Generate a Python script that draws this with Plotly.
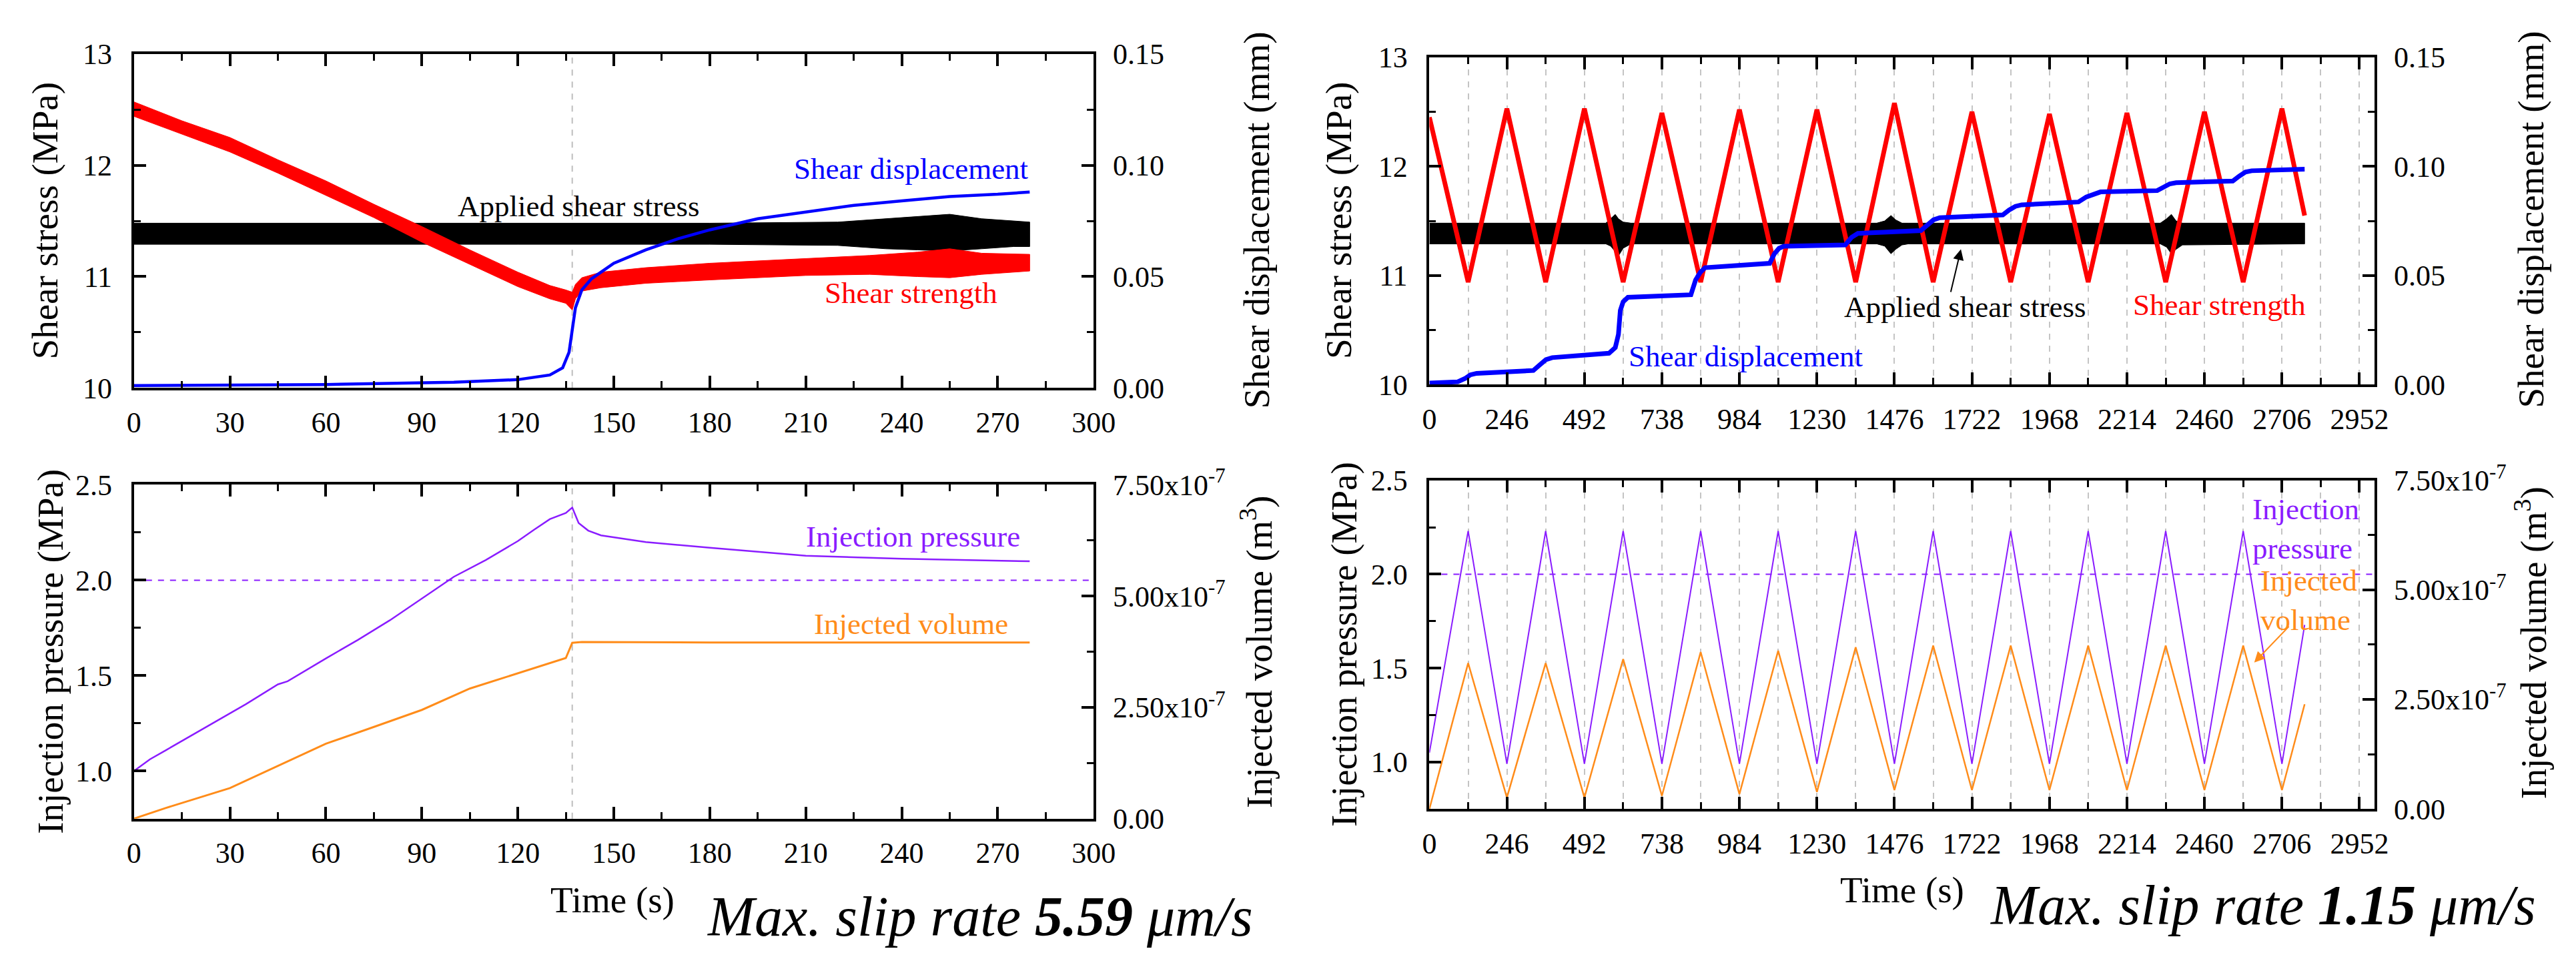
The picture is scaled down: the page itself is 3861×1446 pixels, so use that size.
import plotly.graph_objects as go

W, H = 3861, 1446
FONT = "Liberation Serif"

# ---------------- LEFT (5.59 um/s) : top panel ----------------
L_band_t = [0, 15, 30, 45, 60, 75, 90, 105, 120, 130, 135, 137, 138, 140, 146, 160, 180, 210, 230, 245, 255, 265, 280]
L_strength_hi = [12.57, 12.40, 12.25, 12.05, 11.86, 11.65, 11.45, 11.24, 11.04, 10.92, 10.88, 10.86, 10.93, 10.99, 11.04, 11.08, 11.12, 11.16, 11.19, 11.22, 11.25, 11.21, 11.20]
L_strength_lo = [12.44, 12.28, 12.12, 11.93, 11.73, 11.53, 11.31, 11.11, 10.91, 10.80, 10.76, 10.70, 10.80, 10.87, 10.90, 10.94, 10.97, 11.01, 11.02, 11.00, 10.99, 11.02, 11.05]

L_applied_t = [0, 60, 120, 180, 220, 235, 245, 255, 265, 275, 280]
L_applied_hi = [11.48, 11.48, 11.48, 11.48, 11.49, 11.52, 11.54, 11.56, 11.52, 11.50, 11.49]
L_applied_lo = [11.29, 11.29, 11.29, 11.29, 11.28, 11.25, 11.24, 11.23, 11.25, 11.27, 11.27]

L_disp_t = [0, 60, 100, 120, 130, 134, 136, 137, 138, 140, 143, 150, 160, 170, 180, 195, 210, 225, 240, 255, 270, 280]
L_disp_mm = [0.001, 0.0015, 0.0025, 0.0037, 0.0058, 0.009, 0.016, 0.026, 0.036, 0.044, 0.049, 0.056, 0.062, 0.067, 0.071, 0.076, 0.079, 0.082, 0.084, 0.086, 0.087, 0.088]

# ---------------- LEFT : bottom panel ----------------
L_pres_t = [0, 5, 10, 15, 25, 35, 45, 48, 60, 70, 80, 90, 100, 110, 120, 125, 130, 135, 137, 139, 142, 146, 160, 180, 210, 240, 270, 280]
L_pres = [1.00, 1.061, 1.109, 1.157, 1.253, 1.35, 1.454, 1.47, 1.59, 1.687, 1.79, 1.905, 2.018, 2.106, 2.205, 2.264, 2.32, 2.352, 2.381, 2.30, 2.26, 2.235, 2.20, 2.17, 2.128, 2.112, 2.102, 2.099]
L_vol_t = [0, 10, 30, 45, 60, 75, 90, 105, 120, 130, 135, 137, 140, 180, 240, 280]
L_vol = [0.0, 0.24e-7, 0.686e-7, 1.183e-7, 1.684e-7, 2.061e-7, 2.443e-7, 2.923e-7, 3.266e-7, 3.506e-7, 3.609e-7, 3.951e-7, 3.969e-7, 3.956e-7, 3.956e-7, 3.956e-7]

# ---------------- RIGHT (1.15 um/s) : top panel ----------------
R_cyc_t = [0, 123, 246, 369, 492, 615, 738, 861, 984, 1107, 1230, 1353, 1476, 1599, 1722, 1845, 1968, 2091, 2214, 2337, 2460, 2583, 2706, 2778]
R_strength = [12.45, 10.94, 12.53, 10.94, 12.53, 10.94, 12.49, 10.94, 12.52, 10.94, 12.52, 10.94, 12.58, 10.94, 12.50, 10.94, 12.48, 10.94, 12.49, 10.94, 12.50, 10.94, 12.53, 11.55]

R_applied_t = [0, 560, 575, 590, 600, 615, 640, 1420, 1445, 1465, 1480, 1500, 1520, 2320, 2340, 2355, 2370, 2390, 2778]
R_applied_hi = [11.48, 11.48, 11.52, 11.56, 11.52, 11.49, 11.48, 11.48, 11.50, 11.55, 11.51, 11.48, 11.48, 11.48, 11.52, 11.56, 11.50, 11.48, 11.48]
R_applied_lo = [11.29, 11.29, 11.27, 11.22, 11.18, 11.25, 11.29, 11.29, 11.27, 11.20, 11.24, 11.28, 11.29, 11.29, 11.26, 11.20, 11.24, 11.28, 11.29]

R_disp_t = [0, 90, 115, 130, 150, 330, 350, 370, 390, 570, 590, 600, 606, 615, 630, 830, 845, 860, 875,
            1080, 1095, 1110, 1125, 1320, 1340, 1360, 1560, 1580, 1600, 1620, 1820, 1840, 1860, 1880,
            2060, 2085, 2110, 2130, 2310, 2330, 2350, 2370, 2550, 2570, 2590, 2610, 2778]
R_disp_mm = [0.0007, 0.0013, 0.0030, 0.0045, 0.0052, 0.0065, 0.0090, 0.0115, 0.0124, 0.0144, 0.0170, 0.0230, 0.0340, 0.0380, 0.0400, 0.0412, 0.0480, 0.0515, 0.0536,
             0.0556, 0.0600, 0.0625, 0.0634, 0.0640, 0.0675, 0.0693, 0.0706, 0.0730, 0.0755, 0.0765, 0.0778, 0.0800, 0.0817, 0.0824,
             0.0837, 0.0860, 0.0876, 0.0883, 0.0889, 0.0905, 0.0920, 0.0925, 0.0933, 0.0955, 0.0974, 0.0980, 0.0987]

# ---------------- RIGHT : bottom panel ----------------
R_pres = [1.05, 2.23, 0.99, 2.23, 0.99, 2.23, 0.99, 2.23, 0.99, 2.23, 0.99, 2.23, 0.99, 2.23, 0.99, 2.23, 0.99, 2.23, 0.99, 2.23, 0.99, 2.23, 0.99, 1.73]
R_vol = [0.0, 3.33e-7, 0.26e-7, 3.33e-7, 0.26e-7, 3.42e-7, 0.30e-7, 3.58e-7, 0.34e-7, 3.61e-7, 0.39e-7, 3.69e-7, 0.43e-7, 3.73e-7,
         0.43e-7, 3.73e-7, 0.43e-7, 3.73e-7, 0.43e-7, 3.73e-7, 0.43e-7, 3.73e-7, 0.43e-7, 2.39e-7]

# tick labels
disp_ticks = [0.0, 0.05, 0.10, 0.15]
disp_text = ["0.00", "0.05", "0.10", "0.15"]
vol_ticks = [0.0, 2.5e-7, 5.0e-7, 7.5e-7]
vol_text = ["0.00", "2.50x10<sup>-7</sup>", "5.00x10<sup>-7</sup>", "7.50x10<sup>-7</sup>"]

RED, BLACK, BLUE, PURPLE, ORANGE = "#ff0000", "#000000", "#0000ff", "#8a1cff", "#ff8c1a"

fig = go.Figure()

def band(t, hi, lo, color, xa, ya):
    fig.add_trace(go.Scatter(x=list(t) + list(t)[::-1], y=list(hi) + list(lo)[::-1], fill="toself",
                             fillcolor=color, line=dict(color=color, width=1), mode="lines",
                             xaxis=xa, yaxis=ya, showlegend=False, hoverinfo="skip"))

def line(t, v, color, width, xa, ya):
    fig.add_trace(go.Scatter(x=t, y=v, mode="lines", line=dict(color=color, width=width),
                             xaxis=xa, yaxis=ya, showlegend=False))

# left top
band(L_applied_t, L_applied_hi, L_applied_lo, BLACK, "x", "y")
band(L_band_t, L_strength_hi, L_strength_lo, RED, "x", "y")
line(L_disp_t, L_disp_mm, BLUE, 4.5, "x", "y2")
# left bottom
line(L_pres_t, L_pres, PURPLE, 2.5, "x2", "y3")
line(L_vol_t, L_vol, ORANGE, 3, "x2", "y4")
# right top
band(R_applied_t, R_applied_hi, R_applied_lo, BLACK, "x3", "y5")
line(R_cyc_t, R_strength, RED, 7, "x3", "y5")
line(R_disp_t, R_disp_mm, BLUE, 7, "x3", "y6")
# right bottom
line(R_cyc_t, R_pres, PURPLE, 2, "x4", "y7")
line(R_cyc_t, R_vol, ORANGE, 2.5, "x4", "y8")

def dx(a, b):
    return [a / W, b / W]

def dy(top, bot):
    return [1 - bot / H, 1 - top / H]

tickfont = dict(family=FONT, size=44, color="black")
GRIDC = "#c4c4c4"

def xaxis(domain, anchor, rng, dtick, mdtick, grid):
    return dict(domain=domain, anchor=anchor, range=rng, tickmode="linear", tick0=0, dtick=dtick,
                ticks="inside", ticklen=18, tickwidth=3.5, tickcolor="black",
                showline=True, linecolor="black", linewidth=4, mirror="ticks",
                tickfont=tickfont, zeroline=False, ticklabelstandoff=10,
                showgrid=grid, gridcolor=GRIDC, griddash="dash", gridwidth=1.5,
                minor=dict(dtick=mdtick, tick0=0, ticks="inside", ticklen=10, tickwidth=3, tickcolor="black",
                           showgrid=grid, gridcolor=GRIDC, griddash="dash", gridwidth=1.5))

def yleft(domain, anchor, rng, tick0, dtick, mdtick, fmt):
    return dict(domain=domain, anchor=anchor, range=rng, tickmode="linear", tick0=tick0, dtick=dtick,
                tickformat=fmt, ticks="inside", ticklen=18, tickwidth=3.5, tickcolor="black",
                showline=True, linecolor="black", linewidth=4, mirror=True,
                tickfont=tickfont, zeroline=False, showgrid=False, ticklabelstandoff=20,
                minor=dict(dtick=mdtick, tick0=tick0, ticks="inside", ticklen=10, tickwidth=3, tickcolor="black"))

def yright(overlay, anchor, rng, vals, text, mvals):
    return dict(overlaying=overlay, anchor=anchor, side="right", range=rng, tickmode="array",
                tickvals=vals, ticktext=text, ticks="inside", ticklen=18, tickwidth=3.5, tickcolor="black",
                showline=True, linecolor="black", linewidth=4,
                tickfont=tickfont, zeroline=False, showgrid=False, ticklabelstandoff=16,
                minor=dict(tickmode="array", tickvals=mvals, ticks="inside", ticklen=10, tickwidth=3, tickcolor="black"))

TLx, TLy = dx(192, 1647), dy(53, 573)
BLx, BLy = dx(192, 1647), dy(724, 1244)
TRx, TRy = dx(2156, 3589), dy(58, 568)
BRx, BRy = dx(2156, 3589), dy(717, 1229)

fig.update_layout(
    width=W, height=H, margin=dict(l=0, r=0, t=0, b=0),
    paper_bgcolor="white", plot_bgcolor="white", showlegend=False,
    font=dict(family=FONT, color="black"),
    xaxis=xaxis(TLx, "y", [0, 300], 30, 15, False),
    yaxis=yleft(TLy, "x", [10, 13], 10, 1, 0.5, "d"),
    yaxis2=yright("y", "x", [0, 0.15], disp_ticks, disp_text, [0.025, 0.075, 0.125]),
    xaxis2=xaxis(BLx, "y3", [0, 300], 30, 15, False),
    yaxis3=yleft(BLy, "x2", [0.75, 2.5], 0, 0.5, 0.25, ".1f"),
    yaxis4=yright("y3", "x2", [0, 7.5e-7], vol_ticks, vol_text, [1.25e-7, 3.75e-7, 6.25e-7]),
    xaxis3=xaxis(TRx, "y5", [0, 3000], 246, 123, True),
    yaxis5=yleft(TRy, "x3", [10, 13], 10, 1, 0.5, "d"),
    yaxis6=yright("y5", "x3", [0, 0.15], disp_ticks, disp_text, [0.025, 0.075, 0.125]),
    xaxis4=xaxis(BRx, "y7", [0, 3000], 246, 123, True),
    yaxis7=yleft(BRy, "x4", [0.75, 2.5], 0, 0.5, 0.25, ".1f"),
    yaxis8=yright("y7", "x4", [0, 7.5e-7], vol_ticks, vol_text, [1.25e-7, 3.75e-7, 6.25e-7]),
)

# reference lines
for xa, ya in [("x", "y"), ("x2", "y3")]:
    fig.add_shape(type="line", xref=xa, yref=ya + " domain", x0=137, x1=137, y0=0, y1=1,
                  line=dict(color="#bdbdbd", width=2, dash="dash"), layer="below")
for xa, ya in [("x2", "y3"), ("x4", "y7")]:
    fig.add_shape(type="line", xref=xa + " domain", yref=ya, x0=0, x1=1, y0=2.0, y1=2.0,
                  line=dict(color=PURPLE, width=2, dash="dash"), layer="below")

AF = 45
def note(text, x, y, xa, ya, color, size=AF, **kw):
    fig.add_annotation(text=text, x=x, y=y, xref=xa, yref=ya, showarrow=False,
                       font=dict(family=FONT, size=size, color=color), **kw)

# left panel labels
note("Applied shear stress", 139, 11.63, "x", "y", BLACK)
note("Shear displacement", 243, 11.97, "x", "y", BLUE)
note("Shear strength", 243, 10.85, "x", "y", RED)
note("Injection pressure", 243.5, 2.23, "x2", "y3", PURPLE)
note("Injected volume", 243, 1.77, "x2", "y3", ORANGE)

# right panel labels
note("Shear displacement", 628, 10.26, "x3", "y5", BLUE, xanchor="left")
note("Applied shear stress", 1700, 10.71, "x3", "y5", BLACK)
note("Shear strength", 2508, 10.73, "x3", "y5", RED)
note("Injection<br>pressure", 2782, 2.24, "x4", "y7", PURPLE, align="left")
note("Injected<br>volume", 2792, 1.86, "x4", "y7", ORANGE, align="left")

fig.add_annotation(x=1687, y=11.24, xref="x3", yref="y5", ax=1654, ay=10.84, axref="x3", ayref="y5",
                   text="", showarrow=True, arrowhead=2, arrowsize=1.6, arrowwidth=2, arrowcolor=BLACK)
fig.add_annotation(x=2618, y=1.53, xref="x4", yref="y7", ax=2731, ay=1.727, axref="x4", ayref="y7",
                   text="", showarrow=True, arrowhead=2, arrowsize=1.6, arrowwidth=2, arrowcolor=ORANGE)

# axis titles (placed in paper pixels)
TF = 55
def title(text, xp, yp, angle=-90, size=TF, **kw):
    fig.add_annotation(text=text, x=xp / W, y=1 - yp / H, xref="paper", yref="paper", showarrow=False,
                       textangle=angle, xanchor="center", yanchor="middle",
                       font=dict(family=FONT, size=size, color="black"), **kw)

title("Shear stress (MPa)", 57, 313)
title("Injection pressure (MPa)", 65, 984)
title("Shear displacement (mm)", 1894, 312)
title("Injected volume (m<sup>3</sup>)", 1894, 984)
title("Shear stress (MPa)", 2018, 313)
title("Injection pressure (MPa)", 2026, 972)
title("Shear displacement (mm)", 3826, 311)
title("Injected volume (m<sup>3</sup>)", 3826, 970)
title("Time (s)", 917, 1371, angle=0)
title("Time (s)", 2873, 1355, angle=0)
title("<i>Max. slip rate <b>5.59</b> \u03bcm/s</i>", 1475, 1397, angle=0, size=84)
title("<i>Max. slip rate <b>1.15</b> \u03bcm/s</i>", 3420, 1379, angle=0, size=84)

fig.write_html("out.html")
